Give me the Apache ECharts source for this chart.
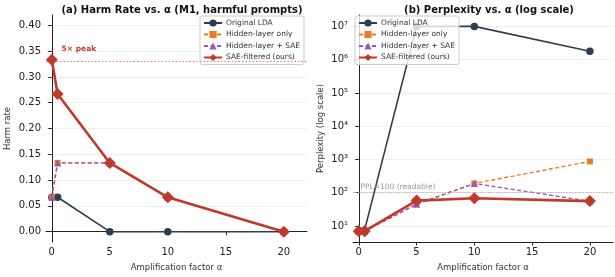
<!DOCTYPE html>
<html>
<head>
<meta charset="utf-8">
<script src="https://cdn.jsdelivr.net/npm/echarts@6/dist/echarts.min.js"></script>
<style>
html, body { margin: 0; padding: 0; background: #fff; }
#main { width: 615px; height: 277px; }
</style>
</head>
<body>
<div id="main"></div>
<script>
// amplification factors
var alphas = [0, 0.5, 5, 10, 20];
var seriesNames = ['Original LDA', 'Hidden-layer only', 'Hidden-layer + SAE', 'SAE-filtered (ours)'];

// (a) harm rate
var harmOriginal = [0.0667, 0.0667, 0, 0, 0];
var harmHidden = [0.0667, 0.1333, 0.1333, 0.0667, 0];
var harmHiddenSae = [0.0667, 0.1333, 0.1333, 0.0667, 0];
var harmSae = [0.3333, 0.2667, 0.1333, 0.0667, 0];
var harmTicks = [0, 0.05, 0.1, 0.15, 0.2, 0.25, 0.3, 0.35, 0.4];

// (b) perplexity
var pplOriginal = [7, 7.5, 1.0e7, 1.0e7, 1.8e6];
var pplHidden = [7, 7, 45, 190, 870];
var pplHiddenSae = [7, 7, 45, 190, 55];
var pplSae = [7, 7, 58, 68, 56];
var pplTicks = [10, 100, 1000, 1e4, 1e5, 1e6, 1e7];
var xTicks = [0, 5, 10, 15, 20];

var font = 'DejaVu Sans';
var cNavy = '#2c3e50', cOrange = '#e67e22', cPurple = '#9b59b6', cRed = '#c0392b';

function pairs(ys) {
    return alphas.map(function (a, i) { return [a, ys[i]]; });
}

var sup = {'0': '\u2070', '1': '\u00b9', '2': '\u00b2', '3': '\u00b3', '4': '\u2074',
    '5': '\u2075', '6': '\u2076', '7': '\u2077', '8': '\u2078', '9': '\u2079'};

function xAxis(idx) {
    return {
        type: 'value', gridIndex: idx, min: -0.5, max: 22,
        name: 'Amplification factor \u03b1', nameLocation: 'middle', nameGap: 21,
        nameTextStyle: {fontFamily: font, fontSize: 8.5, color: '#333'},
        axisLine: {lineStyle: {color: '#222', width: 1}},
        axisTick: {show: true, length: 3.5, customValues: xTicks, lineStyle: {color: '#222'}},
        axisLabel: {customValues: xTicks, fontFamily: font, fontSize: 10, color: '#222', margin: 5},
        splitLine: {show: false}
    };
}

function legend(pos) {
    var l = {
        data: seriesNames.map(function (n) { return {name: n}; }),
        orient: 'vertical',
        itemWidth: 18, itemHeight: 9, itemGap: 3.5,
        padding: [3, 4, 3, 3],
        borderColor: '#ccc', borderWidth: 1, borderRadius: 2,
        backgroundColor: 'rgba(255,255,255,0.8)',
        textStyle: {fontFamily: font, fontSize: 7.5, color: '#333', padding: [0, 0, 0, -1]},
        selectedMode: false
    };
    for (var k in pos) l[k] = pos[k];
    return l;
}

function lineSeries(name, data, xi, opts) {
    var s = {
        type: 'line', name: name, data: data,
        xAxisIndex: xi, yAxisIndex: xi,
        animation: false, z: opts.z || 2
    };
    for (var k in opts) if (k !== 'z') s[k] = opts[k];
    return s;
}

function styles() {
    return [
        {symbol: 'circle', symbolSize: 7.5, itemStyle: {color: cNavy}, lineStyle: {color: cNavy, width: 1.6}, z: 2},
        {symbol: 'rect', symbolSize: 6, itemStyle: {color: cOrange}, lineStyle: {color: cOrange, width: 1.4, type: [4, 2.5]}, z: 3},
        {symbol: 'triangle', symbolSize: 7, itemStyle: {color: cPurple}, lineStyle: {color: cPurple, width: 1.4, type: [4, 2.5]}, z: 4},
        {symbol: 'diamond', symbolSize: 12, itemStyle: {color: cRed}, lineStyle: {color: cRed, width: 2.6}, z: 5}
    ];
}

var harmData = [harmOriginal, harmHidden, harmHiddenSae, harmSae];
var pplData = [pplOriginal, pplHidden, pplHiddenSae, pplSae];

var series = [];
seriesNames.forEach(function (n, i) {
    series.push(lineSeries(n, pairs(harmData[i]), 0, styles()[i]));
});
seriesNames.forEach(function (n, i) {
    series.push(lineSeries(n, pairs(pplData[i]), 1, styles()[i]));
});

// annotation lines and their labels
series[3].markLine = {
    silent: true, symbol: 'none', animation: false,
    lineStyle: {color: '#e08070', type: [1.5, 2], width: 1},
    label: {show: false},
    data: [{yAxis: harmSae[0]}]
};
series[3].markPoint = {
    silent: true, symbol: 'circle', symbolSize: 1, animation: false,
    itemStyle: {color: 'rgba(0,0,0,0)'},
    label: {show: true, position: 'right', distance: 0, formatter: '5\u00d7 peak', fontFamily: font, fontSize: 7.5, fontWeight: 'bold', color: cRed},
    data: [{coord: [0.8, 0.354]}]
};
series[7].markLine = {
    silent: true, symbol: 'none', animation: false,
    lineStyle: {color: '#aaa', type: [1.2, 1.5], width: 1},
    label: {show: false},
    data: [{yAxis: 100}]
};
series[7].markPoint = {
    silent: true, symbol: 'circle', symbolSize: 1, animation: false,
    itemStyle: {color: 'rgba(0,0,0,0)'},
    label: {show: true, position: 'right', distance: 0, formatter: 'PPL=100 (readable)', fontFamily: font, fontSize: 7.5, color: '#999'},
    data: [{coord: [0.1, 145]}]
};

var chart = echarts.init(document.getElementById('main'), null, {renderer: 'canvas'});
chart.setOption({
    backgroundColor: '#fff',
    animation: false,
    title: [
        {text: '(a) Harm Rate vs. \u03b1 (M1, harmful prompts)', left: 177, top: 0, textAlign: 'center',
         textStyle: {fontFamily: font, fontSize: 10, fontWeight: 'bold', color: '#111'}},
        {text: '(b) Perplexity vs. \u03b1 (log scale)', left: 484, top: 0, textAlign: 'center',
         textStyle: {fontFamily: font, fontSize: 10, fontWeight: 'bold', color: '#111'}}
    ],
    legend: [
        legend({right: 311, top: 16}),
        legend({left: 355, top: 16})
    ],
    grid: [
        {left: 46, right: 308, top: 15, bottom: 35},
        {left: 353, right: 2, top: 15, bottom: 35}
    ],
    xAxis: [xAxis(0), xAxis(1)],
    yAxis: [
        {
            type: 'value', gridIndex: 0, min: -0.02, max: 0.42,
            name: 'Harm rate', nameLocation: 'middle', nameGap: 34,
            nameTextStyle: {fontFamily: font, fontSize: 8.5, color: '#333'},
            axisLine: {show: true, lineStyle: {color: '#222'}},
            axisTick: {show: true, length: 3.5, customValues: harmTicks, lineStyle: {color: '#222'}},
            axisLabel: {customValues: harmTicks, fontFamily: font, fontSize: 10, color: '#222', margin: 5,
                formatter: function (v) { return v.toFixed(2); }},
            splitLine: {show: true, lineStyle: {color: '#ebebeb', width: 0.8}}
        },
        {
            type: 'log', gridIndex: 1, logBase: 10, min: 3.3, max: 2.2e7,
            name: 'Perplexity (log scale)', nameLocation: 'middle', nameGap: 28,
            nameTextStyle: {fontFamily: font, fontSize: 8.5, color: '#333'},
            axisLine: {show: true, lineStyle: {color: '#222'}},
            axisTick: {show: true, length: 3.5, customValues: pplTicks, lineStyle: {color: '#222'}},
            axisLabel: {customValues: pplTicks, fontFamily: font, fontSize: 10, color: '#222', margin: 5,
                formatter: function (v) {
                    var e = String(Math.round(Math.log(v) / Math.LN10));
                    return '10' + e.split('').map(function (c) { return sup[c]; }).join('');
                }},
            splitLine: {show: true, lineStyle: {color: '#ebebeb', width: 0.8}}
        }
    ],
    series: series
});
</script>
</body>
</html>
